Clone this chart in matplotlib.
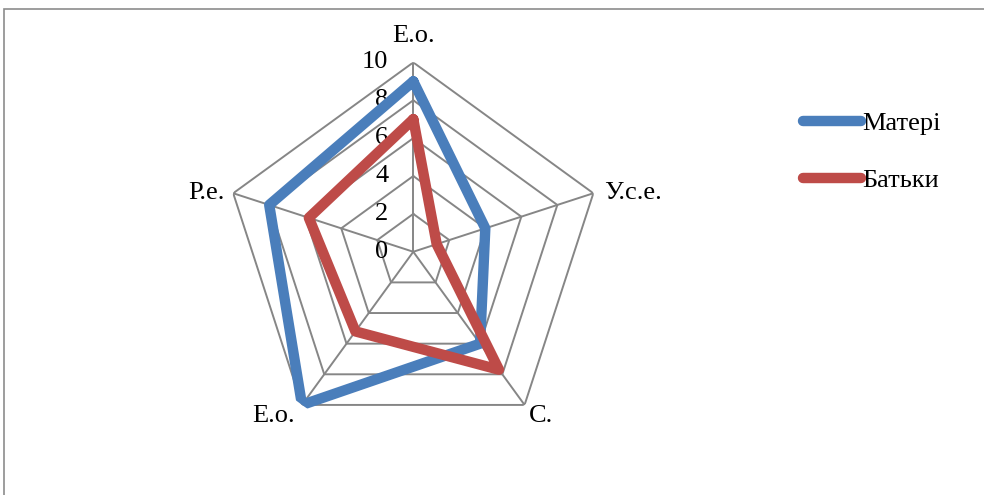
import numpy as np
import matplotlib
matplotlib.use('Agg')
import matplotlib.pyplot as plt
from matplotlib.patches import Rectangle

plt.rcParams['font.family'] = ['Liberation Serif', 'DejaVu Serif']

# data
categories = ['Е.о.', 'У.с.е.', 'С.', 'Е.о.', 'Р.е.']
mothers = [9, 4, 6, 10, 8]
fathers = [7, 1.3, 7.7, 5.2, 5.8]
ticks = [0, 2, 4, 6, 8, 10]

grid_col = '#868686'
blue = '#4A7EBB'
red = '#BE4B48'
fs = 19

fig = plt.figure(figsize=(9.84, 4.95), dpi=100)
ax = fig.add_axes([0.2275, 0.1089, 0.385, 0.765], projection='polar')
ax.set_theta_offset(np.pi / 2)
ax.set_theta_direction(-1)
ax.set_ylim(0, 10)
ax.grid(False)
ax.set_xticks([])
ax.set_yticks([])
ax.spines['polar'].set_visible(False)
ax.patch.set_alpha(0)

n = len(categories)
theta = np.arange(n) * 2 * np.pi / n
theta_c = np.append(theta, theta[0])

# polygon rings + spokes
for t in ticks[1:]:
    ax.plot(theta_c, [t] * (n + 1), color=grid_col, lw=1.4, zorder=1)
for th in theta:
    ax.plot([th, th], [0, ticks[-1]], color=grid_col, lw=1.4, zorder=1)

# tick labels along the top axis
for t in ticks:
    ax.annotate(str(t), (0, t), xytext=(-18, 0), textcoords='offset points',
                ha='right', va='center', fontsize=fs, annotation_clip=False)

# category labels
offsets = [(0, 11, 'center', 'bottom'), (8, 0, 'left', 'center'),
           (3, 0, 'left', 'top'), (-5, 0, 'right', 'top'),
           (-6, 0, 'right', 'center')]
for th, lab, (dx, dy, ha, va) in zip(theta, categories, offsets):
    ax.annotate(lab, (th, 10), xytext=(dx, dy), textcoords='offset points',
                ha=ha, va=va, fontsize=fs, annotation_clip=False)

for vals, col, name in [(mothers, blue, 'Матері'), (fathers, red, 'Батьки')]:
    v = np.append(vals, vals[0])
    ax.plot(theta_c, v, color=col, lw=7.5, solid_joinstyle='round',
            solid_capstyle='round', label=name, zorder=3)

fig.legend(loc='upper left', bbox_to_anchor=(0.792, 0.823), frameon=False,
           fontsize=fs, handlelength=2.2, handletextpad=0.05, labelspacing=1.27)

# outer chart frame
fig.add_artist(Rectangle((0.004, -0.1), 1.5, 1.0818, transform=fig.transFigure,
                         fill=False, edgecolor='#8c8c8c', lw=1.2))

fig.savefig('out.png', dpi=100)
